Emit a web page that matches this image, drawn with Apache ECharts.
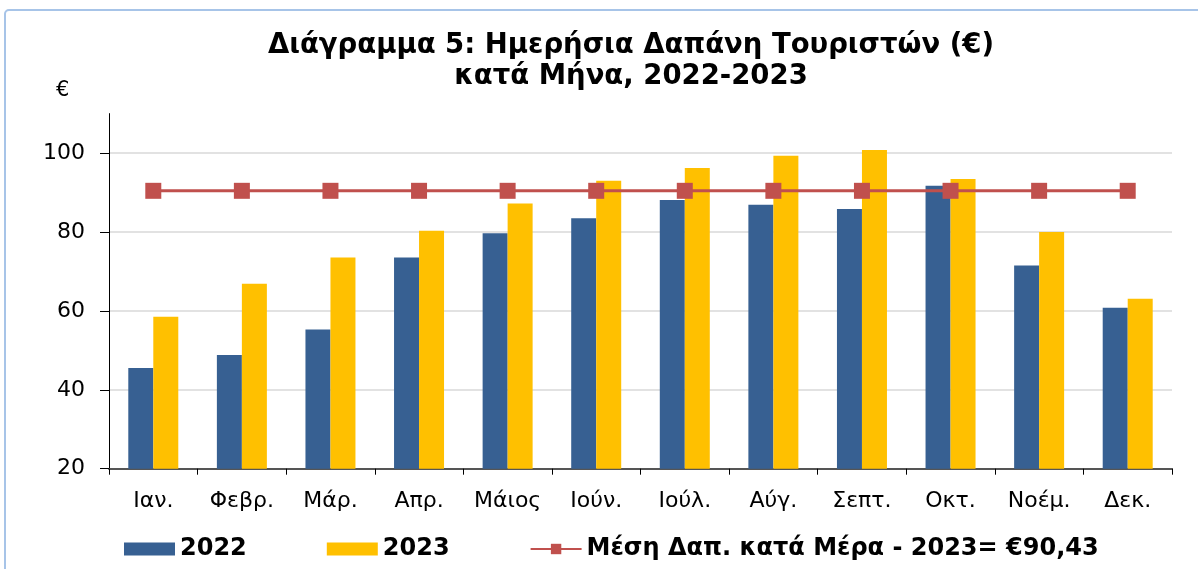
<!DOCTYPE html>
<html><head><meta charset="utf-8">
<script src="https://cdn.jsdelivr.net/npm/echarts@6/dist/echarts.min.js"></script>
<style>html,body{margin:0;padding:0;background:#fff}#c{width:1198px;height:569px}</style>
</head><body><div id="c"></div>
<script>
const categories = ['Ιαν.','Φεβρ.','Μάρ.','Απρ.','Μάιος','Ιούν.','Ιούλ.','Αύγ.','Σεπτ.','Οκτ.','Νοέμ.','Δεκ.'];
const values2022 = [45.5, 48.8, 55.3, 73.5, 79.7, 83.5, 88.1, 86.9, 85.8, 91.7, 71.5, 60.8];
const values2023 = [58.5, 66.9, 73.5, 80.3, 87.2, 93.0, 96.2, 99.3, 100.8, 93.4, 80.0, 63.1];
const avg2023 = [90.43, 90.43, 90.43, 90.43, 90.43, 90.43, 90.43, 90.43, 90.43, 90.43, 90.43, 90.43];
const seriesNames = ['2022', '2023', 'Μέση Δαπ. κατά Μέρα - 2023= €90,43'];
const titleText = 'Διάγραμμα 5: Ημερήσια Δαπάνη Τουριστών (€)\nκατά Μήνα, 2022-2023';
const unitLabel = '€';

const FONT = 'DejaVu Sans';
const chart = echarts.init(document.getElementById('c'), null, {renderer: 'canvas'});
chart.setOption({
  animation: false,
  backgroundColor: '#fff',
  textStyle: {fontFamily: FONT},
  title: {
    text: titleText, left: 626, top: 25, textAlign: 'center',
    textStyle: {fontFamily: FONT, fontSize: 27.5, fontWeight: 'bold', color: '#000', lineHeight: 31}
  },
  graphic: [
    {type: 'rect', shape: {x: 5, y: 10, width: 1300, height: 700, r: 4},
     style: {fill: 'none', stroke: '#a7c4e8', lineWidth: 2}, silent: true},
    {type: 'text', left: 56, top: 80, style: {text: unitLabel, font: '21px "DejaVu Sans"', fill: '#000'}}
  ],
  legend: {
    bottom: 3, left: 119, itemGap: 80, itemWidth: 51, itemHeight: 13,
    textStyle: {fontFamily: FONT, fontSize: 24, fontWeight: 'bold', color: '#000'},
    data: [
      {name: seriesNames[0], icon: 'rect'},
      {name: seriesNames[1], icon: 'rect'},
      {name: seriesNames[2]}
    ]
  },
  grid: {left: 109, right: 26, top: 113.6, bottom: 100.3, containLabel: false},
  xAxis: {
    type: 'category', data: categories,
    axisLine: {lineStyle: {color: '#555', width: 2}},
    axisTick: {show: true, alignWithLabel: false, length: 6, lineStyle: {color: '#000'}},
    axisLabel: {fontFamily: FONT, fontSize: 22, color: '#000', margin: 22}
  },
  yAxis: {
    type: 'value', min: 20, max: 110, interval: 20,
    axisLine: {show: true, lineStyle: {color: '#000', width: 1}},
    axisTick: {show: true, length: 9, lineStyle: {color: '#000'}},
    axisLabel: {fontFamily: FONT, fontSize: 22, color: '#000', margin: 24, showMaxLabel: false},
    splitLine: {lineStyle: {color: '#d9d9d9', width: 1.5}, showMaxLine: false, showMinLine: false}
  },
  series: [
    {name: seriesNames[0], type: 'bar', data: values2022, barWidth: 25, barGap: '0%',
     itemStyle: {color: '#376092'}},
    {name: seriesNames[1], type: 'bar', data: values2023, barWidth: 25, barGap: '0%',
     itemStyle: {color: '#FFC000'}},
    {name: seriesNames[2], type: 'line', data: avg2023, symbol: 'rect', symbolSize: 16,
     lineStyle: {color: '#C0504D', width: 3}, itemStyle: {color: '#C0504D'}, z: 5}
  ]
});
</script></body></html>
